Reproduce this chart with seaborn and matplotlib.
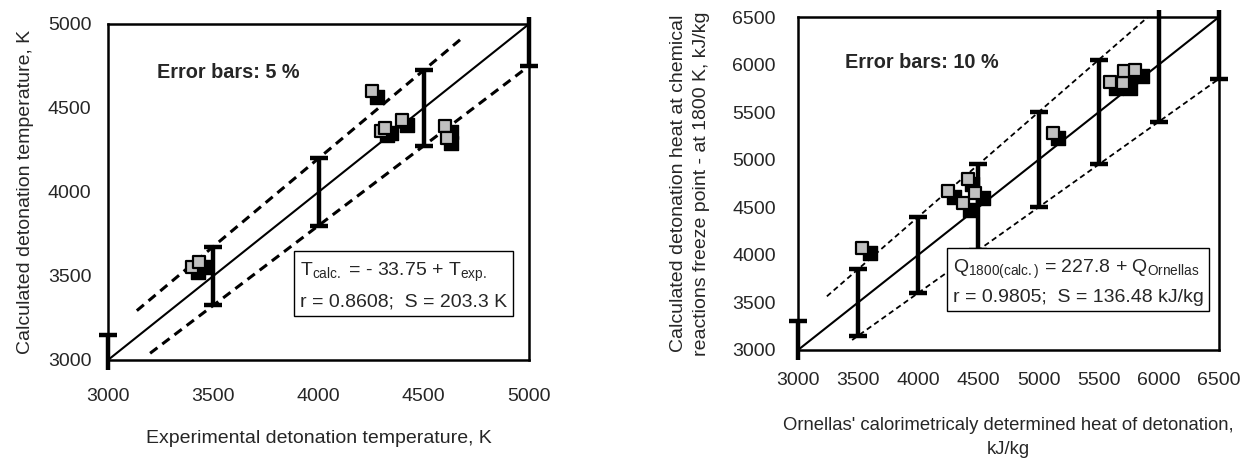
import matplotlib
matplotlib.use("Agg")
import matplotlib.pyplot as plt
import matplotlib.font_manager as fm
from matplotlib.patches import Rectangle
import numpy as np
import seaborn as sns

# --- data: left panel (detonation temperature, K) ---
t_ticks = [3000, 3500, 4000, 4500, 5000]
t_gray_x = [3398, 3431, 4256, 4299, 4318, 4398, 4602, 4611]
t_gray_y = [3554, 3583, 4601, 4363, 4381, 4429, 4393, 4321]
t_black_x = [3427, 3460, 4280, 4327, 4345, 4422, 4630, 4630]
t_black_y = [3524, 3554, 4565, 4339, 4350, 4399, 4357, 4292]
t_bar_x = [3000, 3500, 4000, 4500, 5000]
t_bar_pct = 0.05
t_upper_x = [3137, 4687]
t_lower_x = [3200, 5000]

# --- data: right panel (detonation heat, kJ/kg) ---
q_ticks = [3000, 3500, 4000, 4500, 5000, 5500, 6000, 6500]
q_gray_x = [3530, 4250, 4410, 4375, 4470, 5120, 5590, 5700, 5710, 5800]
q_gray_y = [4075, 4675, 4795, 4541, 4652, 5286, 5815, 5808, 5935, 5945]
q_black_x = [3595, 4300, 4450, 4430, 4540, 5165, 5640, 5760, 5770, 5860]
q_black_y = [4016, 4610, 4740, 4470, 4594, 5223, 5750, 5750, 5880, 5880]
q_bar_x = [3000, 3500, 4000, 4500, 5000, 5500, 6000, 6500]
q_bar_pct = 0.10
q_upper_x = [3240, 5910]
q_lower_x = [3450, 6500]

sns.set_style("white")
names = {f.name for f in fm.fontManager.ttflist}
fam = "Liberation Sans Narrow" if "Liberation Sans Narrow" in names else "Liberation Sans"
k = 1.0 if fam == "Liberation Sans Narrow" else 0.875
plt.rcParams["font.family"] = [fam, "DejaVu Sans"]
plt.rcParams["mathtext.fontset"] = "custom"
plt.rcParams["mathtext.rm"] = fam
plt.rcParams["mathtext.it"] = fam

fs = 16 * k

fig = plt.figure(figsize=(12.44, 4.66), dpi=100)
ax1 = fig.add_axes([108 / 1244, 106 / 466, 421 / 1244, 336 / 466])
ax2 = fig.add_axes([798 / 1244, 116 / 466, 421 / 1244, 333 / 466])


def draw_panel(ax, ticks, gx, gy, bx, by, barx, pct, upx, lox, dash, dlw):
    lo, hi = ticks[0], ticks[-1]
    barx = np.array(barx, dtype=float)
    eb = ax.errorbar(barx, barx, yerr=barx * pct, fmt="none", ecolor="black",
                     elinewidth=3.2, capsize=6.5, capthick=3.2, zorder=2)
    # let the bars run a little past the frame, as in the original
    clip = Rectangle((-0.03, -0.03), 1.06, 1.05, transform=ax.transAxes,
                     fc="none", ec="none")
    ax.add_patch(clip)
    for art in list(eb.lines[1]) + list(eb.lines[2]):
        art.set_clip_path(clip)
    sns.lineplot(x=[lo, hi], y=[lo, hi], color="black", lw=1.5, ax=ax, zorder=1)
    up = np.array(upx, dtype=float)
    dn = np.array(lox, dtype=float)
    ax.plot(up, up * (1 + pct), color="black", lw=dlw, dashes=dash, zorder=1)
    ax.plot(dn, dn * (1 - pct), color="black", lw=dlw, dashes=dash, zorder=1)
    sns.scatterplot(x=bx, y=by, marker="s", s=95, color="black",
                    edgecolor="black", linewidth=1, ax=ax, zorder=3)
    sns.scatterplot(x=gx, y=gy, marker="s", s=75, color="#c0c0c0",
                    edgecolor="black", linewidth=1.6, ax=ax, zorder=4)
    ax.set_xlim(lo, hi)
    ax.set_ylim(lo, hi)
    ax.set_xticks(ticks)
    ax.set_yticks(ticks)
    ax.tick_params(direction="in", length=6, width=1.5, labelsize=fs)
    for s in ax.spines.values():
        s.set_visible(True)
        s.set_linewidth(1.8)
        s.set_color("black")


draw_panel(ax1, t_ticks, t_gray_x, t_gray_y, t_black_x, t_black_y,
           t_bar_x, t_bar_pct, t_upper_x, t_lower_x, (3, 2), 2.2)
draw_panel(ax2, q_ticks, q_gray_x, q_gray_y, q_black_x, q_black_y,
           q_bar_x, q_bar_pct, q_upper_x, q_lower_x, (3, 2), 1.3)

ax1.tick_params(axis="x", pad=20)
ax1.tick_params(axis="y", pad=12)
ax2.tick_params(axis="x", pad=16)
ax2.tick_params(axis="y", pad=16)

ax1.set_xlabel("Experimental detonation temperature, K", fontsize=fs, labelpad=18)
ax1.set_ylabel("Calculated detonation temperature, K", fontsize=fs, labelpad=10)
ax2.set_xlabel("Ornellas' calorimetricaly determined heat of detonation,\nkJ/kg",
               fontsize=fs * 0.95, labelpad=20, linespacing=1.5)
ax2.set_ylabel("Calculated detonation heat at chemical\nreactions freeze point - at 1800 K, kJ/kg",
               fontsize=fs, labelpad=16, linespacing=1.45)

ax1.text(3232, 4714, "Error bars: 5 %", fontsize=14.3, fontweight="bold", va="center")
ax2.text(3390, 6025, "Error bars: 10 %", fontsize=14.3, fontweight="bold", va="center")

box = dict(boxstyle="square,pad=0.3", fc="white", ec="black", lw=1)
ax1.text(3910, 3590, "T$_{\\rm calc.}$ = - 33.75 + T$_{\\rm exp.}$\nr = 0.8608;  S = 203.3 K",
         fontsize=fs, va="top", ha="left", linespacing=1.7, bbox=box, zorder=5)
ax2.text(4285, 3965, "Q$_{\\rm 1800(calc.)}$ = 227.8 + Q$_{\\rm Ornellas}$\nr = 0.9805;  S = 136.48 kJ/kg",
         fontsize=fs, va="top", ha="left", linespacing=1.55, bbox=box, zorder=5)

fig.savefig("out.png", dpi=100)
